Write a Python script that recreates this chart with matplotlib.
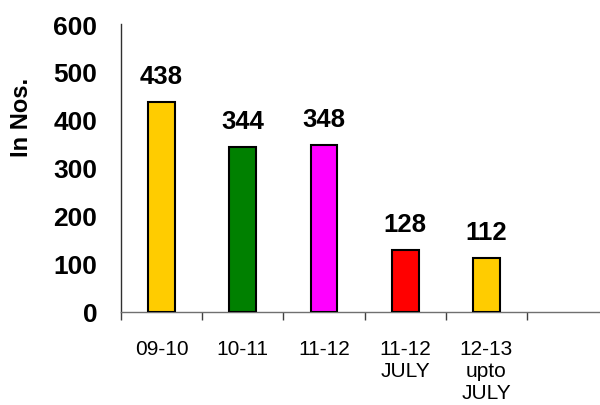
import matplotlib
matplotlib.use("Agg")
import matplotlib.pyplot as plt

categories = ["09-10", "10-11", "11-12", "11-12\nJULY", "12-13\nupto\nJULY"]
values = [438, 344, 348, 128, 112]
colors = ["#FFCC00", "#008000", "#FF00FF", "#FF0000", "#FFCC00"]
yticks = [0, 100, 200, 300, 400, 500, 600]

plt.rcParams['font.family'] = ['Liberation Sans', 'DejaVu Sans']

fig = plt.figure(figsize=(6.0, 4.06), dpi=100)
ax = fig.add_axes([121/600, 1-312.7/406, 1-121/600, (312.7-25)/406])

x = list(range(len(values)))
bars = ax.bar(x, values, width=0.33, color=colors, edgecolor="black", linewidth=1.5, zorder=3)

for xi, v in zip(x, values):
    ax.annotate(str(v), (xi, v), xytext=(0, 10), textcoords="offset points",
                ha="center", va="bottom", fontsize=18.5, fontweight="bold")

ax.set_xlim(-0.5, 5.4)
ax.set_ylim(0, 600)
ax.set_yticks(yticks)
ax.set_yticklabels([str(t) for t in yticks], fontsize=19, fontweight="bold")
ax.tick_params(axis="y", length=0, pad=17)

ax.set_xticks(x)
ax.set_xticklabels(categories, fontsize=15, linespacing=1.2, va="top")
ax.tick_params(axis="x", which="major", length=0, pad=20)
ax.set_xticks([i + 0.5 for i in range(-1, 5)], minor=True)
ax.tick_params(axis="x", which="minor", length=6, width=1, color="#404040", direction="out")

for s in ["top", "right"]:
    ax.spines[s].set_visible(False)
ax.spines["left"].set_color("#303030")
ax.spines["left"].set_linewidth(1.0)
ax.spines["bottom"].set_color("#707070")
ax.spines["bottom"].set_linewidth(1.0)

fig.text(22/600, 1-117/406, "In Nos.", rotation=90, ha="center", va="center",
         fontsize=17, fontweight="bold")

fig.savefig("out.png", dpi=100)
